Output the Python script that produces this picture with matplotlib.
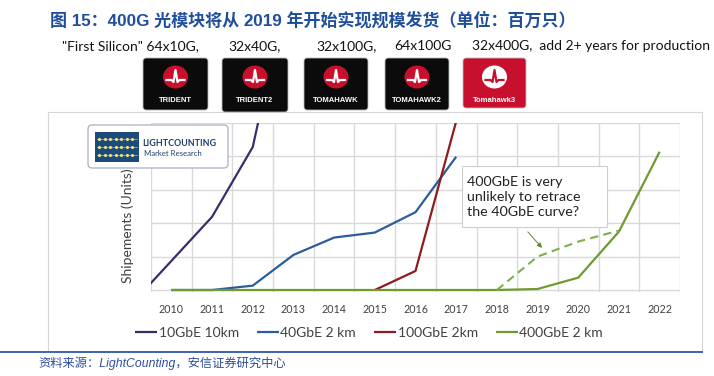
import numpy as np
import matplotlib
matplotlib.use("Agg")
import matplotlib.pyplot as plt
from matplotlib.patches import FancyBboxPatch, Rectangle, Ellipse

plt.rcParams['font.family'] = ['Lato', 'DejaVu Sans']

# data (grid units, 5 divisions)
nan = np.nan
years = np.arange(2009, 2023)
tick_years = np.arange(2010, 2023)
ge10 = [-0.45, 0.87, 2.19, 4.28, 9.8] + [nan] * 9
ge40 = [nan, 0, 0, 0.13, 1.05, 1.57, 1.72, 2.33, 3.99] + [nan] * 5
ge100 = [nan] * 6 + [0, 0.57, 5.05] + [nan] * 5
ge400 = [nan] + [0] * 9 + [0.03, 0.37, 1.75, 4.14]
ge400_alt = [nan] * 9 + [0, 1.0, 1.45, 1.78, nan]

series_names = ['10GbE 10km', '40GbE 2 km', '100GbE 2km', '400GbE 2 km']
series_colors = ['#3d2b6b', '#2b5c9e', '#8e1b1f', '#6f9a2f']

chips = ['TRIDENT', 'TRIDENT2', 'TOMAHAWK', 'TOMAHAWK2', 'Tomahawk3']
chip_specs = ['"First Silicon" 64x10G,', '32x40G,', '32x100G,', '64x100G',
              '32x400G,  add 2+ years for production']

title = '图 15：400G 光模块将从 2019 年开始实现规模发货（单位：百万只）'
source = '资料来源：LightCounting，安信证券研究中心'

W, H = 714, 376
fig = plt.figure(figsize=(W / 100, H / 100), dpi=100)

# main chart
y0 = -0.05
ax = fig.add_axes([151 / W, 1 - (290 - y0 * 33.4) / H, (680 - 151) / W, (290 - y0 * 33.4 - 123) / H])
ax.set_xlim(2009.5, 2022.5)
ax.set_ylim(y0, 5)
for s in ax.spines.values():
    s.set_visible(False)
ax.set_xticks(tick_years)
ax.set_xticklabels([str(y) for y in tick_years], fontsize=7.7, color='#404040')
ax.set_xticks(np.arange(2009.5, 2023, 1), minor=True)
ax.set_yticks(np.arange(0, 6, 1))
ax.set_yticklabels([])
ax.tick_params(which='both', length=0, pad=9)
ax.grid(which='minor', axis='x', color='#d9d9d9', lw=1)
ax.grid(which='major', axis='y', color='#d9d9d9', lw=1)
ax.set_axisbelow(True)

for vals, name, col in zip([ge10, ge40, ge100, ge400], series_names, series_colors):
    ax.plot(years, vals, color=col, lw=1.6, label=name, solid_capstyle='butt')
ax.plot(years, ge400_alt, color='#7db04c', lw=1.5, ls=(0, (4, 2.5)))

ax.annotate('', xy=(2019.11, 1.26), xytext=(2018.76, 1.74),
            arrowprops=dict(arrowstyle='-|>', color='#5b8a2d', lw=0.7,
                            mutation_scale=7, shrinkA=0, shrinkB=0))

fig.legend(loc='center', bbox_to_anchor=(369 / W, 1 - 333 / H), ncol=4, frameon=False,
           fontsize=10, handlelength=1.6, handletextpad=0.1, columnspacing=1.3,
           labelcolor='#404040')

# decorations drawn in pixel coordinates
deco = fig.add_axes([0, 0, 1, 1], zorder=5)
deco.set_xlim(0, W)
deco.set_ylim(H, 0)
deco.axis('off')
deco.patch.set_alpha(0)

deco.add_patch(Rectangle((48, 112), 654, 240, fill=False, ec='#d6d6d6', lw=0.8))
deco.plot([0, 702], [352, 352], color='#3e64ad', lw=1.4)

deco.text(50, 20, title, fontsize=12.25, fontweight='bold', color='#1f4e9c',
          family=['Liberation Sans', 'Noto Sans CJK SC'], va='center')
deco.text(38, 363, source, fontsize=8.8, style='italic', color='#2e4d9c',
          family=['Liberation Sans', 'Noto Sans CJK SC'], va='center')

spec_x = [62, 228, 316, 394, 472]
for x, t in zip(spec_x, chip_specs):
    deco.text(x, 46, t, fontsize=10.0, color='#111111', va='center')

# chip icons
boxes = [(143, 208, 58, 110), (222, 288, 58, 112), (304, 368, 58, 110),
         (385, 449, 58, 110), (463, 526, 58, 108)]
for i, ((x0, x1, b0, b1), name) in enumerate(zip(boxes, chips)):
    last = i == len(chips) - 1
    bg = '#c8102e' if last else '#0b0b0b'
    disc = 'white' if last else '#c8102e'
    wave = '#c8102e' if last else 'white'
    deco.add_patch(FancyBboxPatch((x0, b0), x1 - x0, b1 - b0,
                                  boxstyle='round,pad=0,rounding_size=3',
                                  fc=bg, ec='#bbbbbb', lw=0.6))
    cx, cy = (x0 + x1) / 2, b0 + 19
    deco.add_patch(Ellipse((cx, cy), 25, 23, fc=disc, ec='none'))
    wx = cx + np.array([-9, -4, -2, 0, 2, 4, 9])
    wy = cy + np.array([3, 3, 5, -7, 5, 3, 3])
    deco.plot(wx, wy, color=wave, lw=1.6)
    deco.text(cx, b0 + 42, name, fontsize=5.5, fontweight='bold', color='white',
              ha='center', va='center', family='Liberation Sans')

# LightCounting logo
deco.add_patch(FancyBboxPatch((88, 125), 140, 43, boxstyle='round,pad=0,rounding_size=4',
                              fc='white', ec='#a8b2c0', lw=0.9))
deco.add_patch(Rectangle((95, 132), 44, 30, fc='#1d4a7c', ec='none'))
for yy in [139, 147, 155]:
    deco.plot([97, 137], [yy, yy], color='#8fa6c4', lw=0.6)
    deco.scatter(np.arange(99, 137, 5.5), [yy] * 7, s=5, color='#f2e27a', zorder=6, lw=0)
deco.text(142, 143, 'LIGHTCOUNTING', fontsize=6.4, fontweight='bold', color='#1d3f6e', va='center')
deco.text(144, 154, 'Market Research', fontsize=5.6, color='#1d3f6e', va='center')

# annotation box and y label
deco.add_patch(Rectangle((462, 166), 145, 61, fc='white', ec='#cfcfcf', lw=0.8))
deco.text(467, 197, '400GbE is very\nunlikely to retrace\nthe 40GbE curve?', fontsize=10.3,
          color='#222222', va='center', ha='left', linespacing=1.3)
deco.text(128, 226, 'Shipements (Units)', rotation=90, fontsize=10, color='#404040',
          ha='center', va='center')

fig.savefig('out.png', dpi=100)
